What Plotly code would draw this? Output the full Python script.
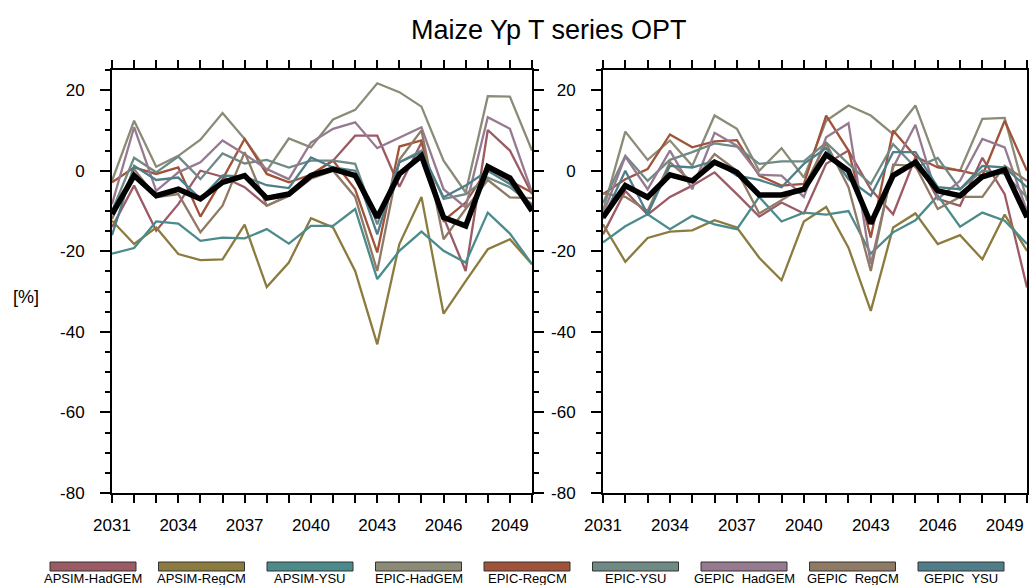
import plotly.graph_objects as go

years = list(range(2031, 2051))

series_names = ["APSIM-HadGEM", "APSIM-RegCM", "APSIM-YSU", "EPIC-HadGEM", "EPIC-RegCM",
                "EPIC-YSU", "GEPIC\u00a0 HadGEM", "GEPIC\u00a0 RegCM", "GEPIC\u00a0 YSU"]
series_colors = ["#9b5a64", "#8c7b3f", "#4b8b8c", "#8b8b78", "#a1533a",
                 "#6f8a85", "#967a90", "#8f7a66", "#4f7e8a"]

# Left panel
L_APSIM_HadGEM = [-14, -3.7, -14.9, -8.3, 0, -1.5, -4.1, -8.7, -6.2, -1, 2.5, 8.7, 8.7, -4, 7, -11.6, -24.9, 10.1, 5, -5.8]
L_APSIM_RegCM = [-12.4, -18.2, -14.1, -20.7, -22.2, -22, -13.4, -28.9, -22.8, -11.8, -14.1, -24.9, -43.1, -18.2, -6.5, -35.5, -27.4, -19.5, -17, -23.2]
L_APSIM_YSU = [-20.6, -19.2, -12.6, -13.1, -17.4, -16.6, -16.8, -14.5, -18.1, -13.7, -13.7, -9.5, -26.9, -19.9, -15.1, -19.9, -22.8, -10.4, -15.6, -23.2]
L_EPIC_HadGEM = [-2.5, 12.4, 1, 3.7, 7.7, 14.3, 7.9, 0, 8, 5.8, 12.7, 15.1, 21.7, 19.5, 15.9, 2.5, -5.4, 18.5, 18.4, 5]
L_EPIC_RegCM = [-2.9, 0.8, -0.8, 0.8, -11.4, -2.1, 7.9, -0.8, -2.9, -1, 2.5, -4.6, -20.3, 6, 7.5, -12.4, -7.9, 0.5, -2.5, -5.4]
L_EPIC_YSU = [-10, 3.2, -0.4, 3.5, -2.1, 4.3, 1.8, 2.7, 0.8, 2.5, 2.5, 1.7, -13.3, 2.1, 5, -7, -5.8, -1.7, -4.1, -8.3]
L_GEPIC_HadGEM = [-8.3, 10.8, -5, -0.4, 2.1, 7.5, 4.1, 0.4, -2.1, 7, 10.4, 12, 5.6, 8.3, 10.8, -4.6, -9.1, 13.3, 10.4, -5.4]
L_GEPIC_RegCM = [-12, 0.4, -6.6, -5.8, -15.3, -8.7, 4.6, -8.7, -6.2, -2, 0, -6.5, -24.9, 2.7, 10, -17, -9.5, -2.3, -6.6, -6.8]
L_GEPIC_YSU = [-16, 1.2, -2.3, -1.7, -7, -1.2, -1.5, -3.6, -4.3, 3.3, 0.8, 0, -15.8, 2.1, 4.6, -6.6, -3.7, 0, -3.3, -8.7]
L_MEAN = [-10.8, -1.2, -6.2, -4.6, -7, -2.9, -1.2, -6.8, -5.8, -1.2, 0.4, -1.2, -11.6, -0.8, 3.7, -11.6, -13.7, 1, -1.8, -10]

# Right panel
R_APSIM_HadGEM = [-15.8, -5, -10.9, -6.5, -3.7, -0.4, -5.8, -11.4, -7.9, -10.6, 1.7, 5, -4.6, -10.8, 3.3, -7, -8.7, 3.2, -5.8, -29]
R_APSIM_RegCM = [-13.3, -22.6, -16.7, -15.1, -14.8, -12.3, -14.1, -21.6, -27.2, -12.6, -9, -19.1, -34.8, -14.1, -10.6, -18.2, -16, -22, -10.9, -19.9]
R_APSIM_YSU = [-17.8, -13.8, -10.8, -14.5, -11.2, -13.3, -14.5, -6.5, -12.6, -10.4, -10.9, -10, -20.6, -15.3, -12.3, -6.2, -13.9, -10.4, -12.4, -18.2]
R_EPIC_HadGEM = [-10, 9.7, 2.7, 7.5, 1.2, 13.7, 10.4, 0, 5.6, -1.7, 12.4, 16.2, 13.7, 9.1, 16.2, 1.2, 0, 12.9, 13.1, -7.5]
R_EPIC_RegCM = [-5.8, -2.1, 0.4, 9, 5.8, 7.3, 7.6, -1.2, -3.7, -3.3, 13.7, 5, -16.6, 10, 3.5, 0.8, 0, -1.2, 12.4, 0]
R_EPIC_YSU = [-8, 3.7, -2.5, 2.7, 4.6, 6.8, 6, 1.7, 2.3, 2.3, 7, 1.7, -3.3, 6.6, 0.8, 3.2, -4.6, 0, -0.8, -6.6]
R_GEPIC_HadGEM = [-10.8, 3.5, -4.6, 5, -4.6, 9.4, 6.2, -1, -1.2, -6.5, 8.3, 11.8, -23.2, 0.8, 11.4, -7, -2.5, 7.9, 5.8, -10]
R_GEPIC_RegCM = [-5.6, -6.5, -10, 2.1, -2.9, 4.1, 0, -10.6, -7.3, -4.1, 6.8, -4.1, -24.9, 1.5, 1.2, -9.5, -6.5, -6.5, 1.2, -2.5]
R_GEPIC_YSU = [-12, 0, -10.8, 1.2, 0.8, 2.5, -1.2, -2.3, -4.1, 1.7, 5.6, -2.1, -6.2, 4.6, 4.6, -4.1, -4.6, 1.2, 0.8, -4.1]
R_MEAN = [-11.6, -3.7, -6.6, -1, -2.5, 2.1, -0.4, -6, -6, -4.6, 4, 0, -13.1, -1.2, 2.1, -5, -6.2, -1.5, 0.2, -11.6]

left_series = [L_APSIM_HadGEM, L_APSIM_RegCM, L_APSIM_YSU, L_EPIC_HadGEM, L_EPIC_RegCM,
               L_EPIC_YSU, L_GEPIC_HadGEM, L_GEPIC_RegCM, L_GEPIC_YSU]
right_series = [R_APSIM_HadGEM, R_APSIM_RegCM, R_APSIM_YSU, R_EPIC_HadGEM, R_EPIC_RegCM,
                R_EPIC_YSU, R_GEPIC_HadGEM, R_GEPIC_RegCM, R_GEPIC_YSU]

title_text = "Maize Yp T series OPT"
y_label = "[%]"
x_tickvals = list(range(2031, 2051, 3))
y_tickvals = [20, 0, -20, -40, -60, -80]
y_ticktext = ["20", "0", "-20", "-40", "-60", "-80"]

W, H = 1029, 585
FONT = "Liberation Sans, Arial, Helvetica, sans-serif"

fig = go.Figure()
for ys, axes in ((left_series, ("x", "y")), (right_series, ("x2", "y2"))):
    for name, col, vals in zip(series_names, series_colors, ys):
        fig.add_trace(go.Scatter(x=years, y=vals, mode="lines", name=name,
                                 line=dict(color=col, width=2.3), xaxis=axes[0], yaxis=axes[1],
                                 showlegend=False))
fig.add_trace(go.Scatter(x=years, y=L_MEAN, mode="lines", line=dict(color="black", width=5.5),
                         xaxis="x", yaxis="y", showlegend=False))
fig.add_trace(go.Scatter(x=years, y=R_MEAN, mode="lines", line=dict(color="black", width=5.5),
                         xaxis="x2", yaxis="y2", showlegend=False))

ybot = (H - 493) / H
ytop = (H - 70) / H

def xax(domain, anchor):
    return dict(domain=domain, anchor=anchor, range=[2031, 2050], tickvals=x_tickvals,
                ticktext=[str(v) for v in x_tickvals], automargin=False,
                ticks="outside", ticklen=8, tickwidth=1.5, tickcolor="black",
                minor=dict(dtick=1, tick0=2031, ticks="outside", ticklen=8, tickwidth=1.5, tickcolor="black"),
                showline=True, linecolor="black", linewidth=2, mirror="ticks",
                showgrid=False, zeroline=False, ticklabelstandoff=8,
                tickfont=dict(size=17, color="black", family=FONT))

def yax(domain, anchor):
    return dict(domain=domain, anchor=anchor, range=[-80, 25], tickvals=y_tickvals,
                ticktext=y_ticktext, automargin=False,
                ticks="outside", ticklen=10, tickwidth=1.5, tickcolor="black",
                minor=dict(dtick=5, tick0=0, ticks="outside", ticklen=5, tickwidth=1.5, tickcolor="black"),
                showline=True, linecolor="black", linewidth=2, mirror="ticks",
                showgrid=False, zeroline=False, ticklabelstandoff=12,
                tickfont=dict(size=17, color="black", family=FONT))

fig.update_layout(
    width=W, height=H, autosize=False,
    margin=dict(l=0, r=0, t=0, b=0, autoexpand=False),
    paper_bgcolor="white", plot_bgcolor="white",
    showlegend=False,
    xaxis=xax([112 / W, 532 / W], "y"),
    yaxis=yax([ybot, ytop], "x"),
    xaxis2=xax([603 / W, 1027 / W], "y2"),
    yaxis2=yax([ybot, ytop], "x2"),
)

annotations = [
    dict(text=title_text, x=549 / W, y=1 - 30 / H, xref="paper", yref="paper",
         xanchor="center", yanchor="middle", showarrow=False,
         font=dict(size=27, color="black", family=FONT)),
    dict(text=y_label, x=26 / W, y=1 - 297 / H, xref="paper", yref="paper",
         xanchor="center", yanchor="middle", showarrow=False,
         font=dict(size=18, color="black", family=FONT)),
]
shapes = []
for i, (name, col) in enumerate(zip(series_names, series_colors)):
    cx = 93 + 108.5 * i
    shapes.append(dict(type="rect", xref="paper", yref="paper",
                       x0=(cx - 43) / W, x1=(cx + 43) / W,
                       y0=1 - 571 / H, y1=1 - 562 / H,
                       fillcolor=col, line=dict(color="#333333", width=1)))
    annotations.append(dict(text=name, x=cx / W, y=1 - 578 / H, xref="paper", yref="paper",
                            xanchor="center", yanchor="middle", showarrow=False,
                            font=dict(size=13, color="black", family=FONT)))
fig.update_layout(annotations=annotations, shapes=shapes)

fig.write_html("out.html", config={"displayModeBar": False})

# remove default page margins so the figure fills the window exactly
with open("out.html", "r", encoding="utf-8") as f:
    html = f.read()
html = html.replace("<head>", "<head><style>html,body{margin:0;padding:0;overflow:hidden;}</style>", 1)
with open("out.html", "w", encoding="utf-8") as f:
    f.write(html)
